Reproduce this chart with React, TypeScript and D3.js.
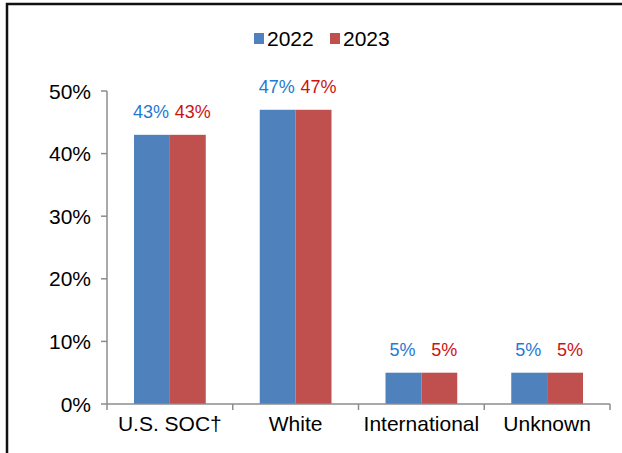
import React from 'react';
import * as d3 from 'd3';

const categories = ['U.S. SOC†', 'White', 'International', 'Unknown'];
const years = ['2022', '2023'];
const values2022 = [43, 47, 5, 5];
const values2023 = [43, 47, 5, 5];
const yTicks = [0, 10, 20, 30, 40, 50];

const barColors = ['#4F81BD', '#C0504D'];
const labelColors = ['#1F7AD2', '#CC1313'];
// labels sit a touch off-centre, pushed away from each other
const labelShift = [-1, 5];

const width = 622;
const height = 453;
const font = 'Liberation Sans, Arial, Helvetica, sans-serif';

const App = () => {
  const series = [values2022, values2023];

  const y = d3.scaleLinear().domain([0, 50]).range([404, 91]);
  const x = d3.scaleBand(categories, [107, 610]).padding(0);
  const x1 = d3.scaleBand(years, [27, x.bandwidth() - 27]).padding(0);

  return (
    <svg
      width={width}
      height={height}
      style={{ position: 'absolute', left: 0, top: 0, background: '#fff' }}
      fontFamily={font}
    >
      {/* frame */}
      <path d={`M7,${height} V4 H${width}`} fill="none" stroke="#111" strokeWidth={2.5} />

      {/* legend */}
      <g fontSize={21} fill="#000">
        {years.map((yr, i) => (
          <g key={yr} transform={`translate(${254 + i * 76},0)`}>
            <rect x={0} y={33} width={10} height={11} fill={barColors[i]} />
            <text x={13} y={46}>{yr}</text>
          </g>
        ))}
      </g>

      {/* bars */}
      {series.map((vals, si) => (
        <g key={years[si]} fill={barColors[si]}>
          {vals.map((v, ci) => (
            <rect
              key={categories[ci]}
              x={(x(categories[ci]) || 0) + (x1(years[si]) || 0)}
              y={y(v)}
              width={x1.bandwidth()}
              height={y(0) - y(v)}
            />
          ))}
        </g>
      ))}

      {/* value labels */}
      {series.map((vals, si) => (
        <g key={'l' + years[si]} fill={labelColors[si]} fontSize={18} textAnchor="middle">
          {vals.map((v, ci) => (
            <text
              key={categories[ci]}
              x={(x(categories[ci]) || 0) + (x1(years[si]) || 0) + x1.bandwidth() / 2 + labelShift[si]}
              y={y(v) - 17}
            >
              {v}%
            </text>
          ))}
        </g>
      ))}

      {/* y axis */}
      <g stroke="#8c8c8c" strokeWidth={1.5}>
        <line x1={107} x2={107} y1={y(50)} y2={y(0)} />
        {yTicks.map((t) => (
          <line key={t} x1={101} x2={107} y1={y(t)} y2={y(t)} />
        ))}
      </g>
      <g fontSize={21} textAnchor="end" fill="#000">
        {yTicks.map((t) => (
          <text key={t} x={91} y={y(t)} dy="0.36em">
            {t}%
          </text>
        ))}
      </g>

      {/* x axis */}
      <g stroke="#8c8c8c" strokeWidth={1.5}>
        <line x1={107} x2={610} y1={y(0)} y2={y(0)} />
        {[...categories.map((c) => x(c) || 0), 610].map((px, i) => (
          <line key={i} x1={px} x2={px} y1={y(0)} y2={y(0) + 6} />
        ))}
      </g>
      <g fontSize={21} textAnchor="middle" fill="#000">
        {categories.map((c) => (
          <text key={c} x={(x(c) || 0) + x.bandwidth() / 2} y={431}>
            {c}
          </text>
        ))}
      </g>
    </svg>
  );
};

export default App;
